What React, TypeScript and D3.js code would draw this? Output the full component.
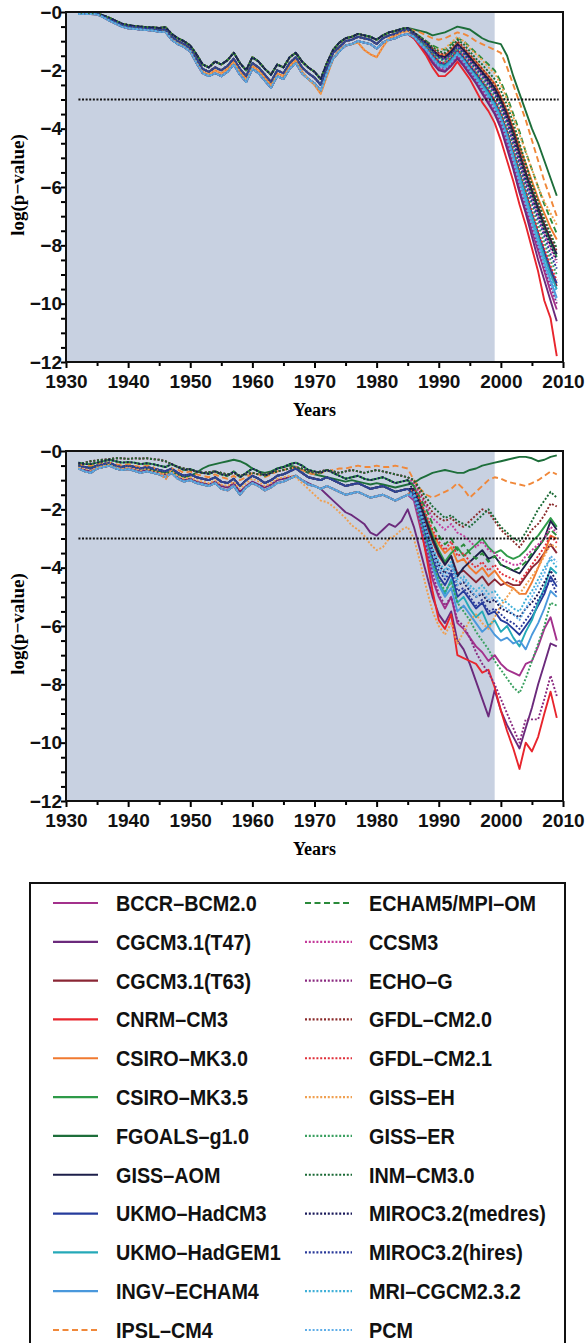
import React, { useEffect, useRef } from 'react';
import * as d3 from 'd3';

// years 1932..2009, one value per year
const years = d3.range(1932, 2010);
const xTicks = d3.range(1930, 2011, 5);
const xLabels = [1930, 1940, 1950, 1960, 1970, 1980, 1990, 2000, 2010];
const yTicks = d3.range(-12, 0.01, 0.5);
const shadeYears = [1930, 1999];
const thresholdYears = [1932, 2009.3];
const threshold = -3;

const models = [
  'BCCR–BCM2.0', 'CGCM3.1(T47)', 'CGCM3.1(T63)', 'CNRM–CM3', 'CSIRO–MK3.0', 'CSIRO–MK3.5',
  'FGOALS–g1.0', 'GISS–AOM', 'UKMO–HadCM3', 'UKMO–HadGEM1', 'INGV–ECHAM4', 'IPSL–CM4',
  'ECHAM5/MPI–OM', 'CCSM3', 'ECHO–G', 'GFDL–CM2.0', 'GFDL–CM2.1', 'GISS–EH',
  'GISS–ER', 'INM–CM3.0', 'MIROC3.2(medres)', 'MIROC3.2(hires)', 'MRI–CGCM2.3.2', 'PCM',
];
const colors = [
  '#a3318c', '#6b2a7c', '#8a2634', '#e8252d', '#f07a30', '#2e9a48',
  '#1d6e3a', '#1d1f4a', '#263c9c', '#25a9b8', '#4a98dc', '#f0883a',
  '#2a8a3a', '#c43a9a', '#8a2a80', '#8a2a2a', '#e0303a', '#f0a050',
  '#3aa060', '#1a6a35', '#1a1a5a', '#2a3a9a', '#40b0d8', '#60aee8',
];
const styles = [
  'solid', 'solid', 'solid', 'solid', 'solid', 'solid',
  'solid', 'solid', 'solid', 'solid', 'solid', 'dashed',
  'dashed', 'dotted', 'dotted', 'dotted', 'dotted', 'dotted',
  'dotted', 'dotted', 'dotted', 'dotted', 'dotted', 'dotted',
];

// ---- top panel: shared histories 1932-1985 ----
const p1Hi = [-0.03,-0.03,-0.04,-0.05,-0.12,-0.2,-0.3,-0.4,-0.45,-0.48,
  -0.5,-0.52,-0.53,-0.55,-0.52,-0.75,-0.9,-1.0,-1.15,-1.45,
  -1.8,-1.9,-1.7,-1.8,-1.65,-1.4,-1.75,-2.0,-1.55,-1.7,
  -1.95,-2.15,-1.8,-1.9,-1.55,-1.4,-1.7,-1.9,-2.05,-2.3,
  -1.75,-1.3,-1.05,-0.9,-0.85,-0.75,-0.8,-0.85,-0.95,-0.8,
  -0.7,-0.65,-0.58,-0.55];
const p1Mid = [-0.05,-0.05,-0.05,-0.06,-0.15,-0.25,-0.35,-0.45,-0.5,-0.52,
  -0.55,-0.57,-0.58,-0.62,-0.6,-0.85,-1.0,-1.1,-1.25,-1.6,
  -1.95,-2.05,-1.9,-2.0,-1.85,-1.6,-1.95,-2.2,-1.75,-1.9,
  -2.15,-2.4,-2.0,-2.1,-1.75,-1.55,-1.9,-2.1,-2.25,-2.5,
  -1.9,-1.4,-1.2,-1.0,-0.95,-0.85,-0.9,-0.95,-1.1,-0.9,
  -0.8,-0.75,-0.65,-0.6];
const p1Lo = [-0.07,-0.07,-0.07,-0.08,-0.18,-0.3,-0.4,-0.5,-0.56,-0.58,
  -0.6,-0.62,-0.64,-0.68,-0.68,-0.95,-1.1,-1.2,-1.35,-1.75,
  -2.1,-2.2,-2.1,-2.2,-2.05,-1.8,-2.15,-2.4,-1.95,-2.1,
  -2.35,-2.6,-2.2,-2.3,-1.95,-1.75,-2.1,-2.3,-2.45,-2.7,
  -2.1,-1.6,-1.35,-1.15,-1.1,-1.0,-1.05,-1.1,-1.25,-1.05,
  -0.95,-0.9,-0.8,-0.75];
const p1Low2 = [-0.06,-0.06,-0.06,-0.07,-0.16,-0.27,-0.37,-0.47,-0.52,-0.55,
  -0.58,-0.6,-0.62,-0.66,-0.64,-0.9,-1.05,-1.15,-1.3,-1.7,
  -2.05,-2.15,-2.0,-2.1,-1.95,-1.7,-2.05,-2.3,-1.85,-2.0,
  -2.25,-2.5,-2.1,-2.2,-1.85,-1.65,-2.05,-2.3,-2.5,-2.8,
  -2.2,-1.6,-1.3,-1.15,-1.1,-1.05,-1.3,-1.45,-1.55,-1.2,
  -0.9,-0.8,-0.7,-0.65];

const panel1Early = [
  p1Lo, p1Lo, p1Mid, p1Lo, p1Low2, p1Mid,
  p1Hi, p1Hi, p1Mid, p1Lo, p1Lo, p1Hi,
  p1Hi, p1Mid, p1Mid, p1Mid, p1Lo, p1Low2,
  p1Mid, p1Hi, p1Hi, p1Mid, p1Lo, p1Lo,
];

// ---- top panel: 1986-2009 per model ----
const panel1Tail = [
  [-0.9,-1.15,-1.4,-1.7,-1.95,-2.0,-1.8,-1.55,-1.8,-2.1,-2.4,-2.75,-3.1,-3.45,-3.9,-4.55,-5.3,-6.1,-6.8,-7.5,-8.2,-8.9,-9.6,-10.2],
  [-0.9,-1.15,-1.45,-1.75,-2.0,-2.05,-1.85,-1.6,-1.85,-2.15,-2.45,-2.8,-3.15,-3.5,-4.0,-4.7,-5.4,-6.2,-6.9,-7.7,-8.5,-9.2,-9.9,-10.6],
  [-0.8,-1.05,-1.25,-1.5,-1.75,-1.8,-1.6,-1.35,-1.6,-1.9,-2.15,-2.45,-2.75,-3.1,-3.55,-4.15,-4.85,-5.55,-6.25,-6.95,-7.6,-8.3,-8.9,-9.4],
  [-0.9,-1.2,-1.5,-1.9,-2.2,-2.2,-2.0,-1.7,-2.0,-2.3,-2.7,-3.1,-3.4,-3.8,-4.4,-5.1,-5.8,-6.6,-7.3,-8.1,-8.9,-9.9,-10.5,-11.8],
  [-0.75,-0.95,-1.1,-1.3,-1.45,-1.5,-1.3,-1.05,-1.25,-1.5,-1.7,-1.95,-2.2,-2.45,-2.9,-3.4,-4.0,-4.6,-5.2,-5.8,-6.4,-6.9,-7.4,-7.8],
  [-0.75,-0.95,-1.1,-1.35,-1.55,-1.6,-1.4,-1.15,-1.35,-1.6,-1.85,-2.1,-2.4,-2.7,-3.1,-3.6,-4.2,-4.9,-5.6,-6.2,-6.8,-7.4,-7.9,-8.4],
  [-0.6,-0.65,-0.7,-0.8,-0.75,-0.7,-0.6,-0.5,-0.55,-0.6,-0.75,-0.9,-1.0,-1.05,-1.1,-1.5,-2.2,-2.8,-3.4,-4.0,-4.5,-5.1,-5.7,-6.3],
  [-0.7,-0.9,-1.05,-1.3,-1.5,-1.55,-1.35,-1.1,-1.3,-1.55,-1.8,-2.05,-2.3,-2.6,-3.0,-3.5,-4.1,-4.8,-5.5,-6.1,-6.7,-7.3,-7.8,-8.3],
  [-0.8,-1.0,-1.2,-1.45,-1.7,-1.8,-1.6,-1.3,-1.55,-1.85,-2.1,-2.4,-2.7,-3.05,-3.5,-4.1,-4.8,-5.5,-6.2,-6.9,-7.6,-8.2,-8.8,-9.3],
  [-0.85,-1.05,-1.25,-1.55,-1.8,-1.85,-1.65,-1.4,-1.65,-1.95,-2.2,-2.5,-2.8,-3.15,-3.6,-4.2,-4.9,-5.6,-6.3,-7.0,-7.7,-8.4,-9.0,-9.5],
  [-0.85,-1.1,-1.3,-1.6,-1.85,-1.9,-1.7,-1.45,-1.7,-2.0,-2.3,-2.6,-2.9,-3.25,-3.7,-4.3,-5.0,-5.8,-6.5,-7.2,-7.9,-8.6,-9.2,-9.8],
  [-0.65,-0.7,-0.8,-0.9,-0.95,-0.9,-0.8,-0.7,-0.75,-0.85,-1.0,-1.1,-1.2,-1.3,-1.4,-1.9,-2.5,-3.1,-3.7,-4.4,-5.1,-5.8,-6.4,-7.0],
  [-0.7,-0.85,-1.0,-1.15,-1.25,-1.3,-1.1,-0.9,-1.0,-1.2,-1.4,-1.6,-1.8,-2.0,-2.4,-2.9,-3.5,-4.1,-4.8,-5.4,-6.0,-6.6,-7.1,-7.6],
  [-0.75,-0.95,-1.1,-1.35,-1.55,-1.6,-1.45,-1.15,-1.4,-1.65,-1.9,-2.15,-2.45,-2.75,-3.2,-3.7,-4.4,-5.1,-5.8,-6.4,-7.0,-7.6,-8.1,-8.6],
  [-0.85,-1.1,-1.35,-1.65,-1.9,-1.95,-1.8,-1.5,-1.75,-2.05,-2.35,-2.65,-3.0,-3.35,-3.8,-4.45,-5.2,-6.0,-6.7,-7.4,-8.1,-8.8,-9.4,-10.0],
  [-0.75,-0.9,-1.05,-1.25,-1.4,-1.45,-1.25,-1.0,-1.2,-1.45,-1.7,-1.95,-2.2,-2.5,-2.9,-3.4,-4.0,-4.7,-5.4,-6.0,-6.6,-7.2,-7.7,-8.2],
  [-0.8,-1.0,-1.2,-1.45,-1.7,-1.75,-1.55,-1.3,-1.5,-1.8,-2.05,-2.35,-2.65,-3.0,-3.45,-4.0,-4.7,-5.4,-6.1,-6.8,-7.5,-8.1,-8.7,-9.2],
  [-0.7,-0.9,-1.0,-1.2,-1.3,-1.25,-1.05,-0.85,-1.0,-1.25,-1.45,-1.65,-1.9,-2.1,-2.5,-3.0,-3.6,-4.2,-4.8,-5.4,-6.0,-6.5,-6.9,-7.3],
  [-0.8,-1.0,-1.15,-1.4,-1.6,-1.7,-1.5,-1.25,-1.45,-1.75,-2.0,-2.3,-2.6,-2.9,-3.35,-3.9,-4.6,-5.3,-6.0,-6.6,-7.3,-7.9,-8.5,-9.0],
  [-0.7,-0.85,-1.0,-1.2,-1.35,-1.4,-1.2,-0.95,-1.1,-1.35,-1.6,-1.8,-2.05,-2.3,-2.7,-3.2,-3.8,-4.5,-5.2,-5.9,-6.5,-7.1,-7.6,-8.1],
  [-0.7,-0.9,-1.05,-1.3,-1.5,-1.55,-1.4,-1.1,-1.3,-1.6,-1.85,-2.1,-2.4,-2.7,-3.1,-3.7,-4.3,-5.0,-5.7,-6.3,-6.9,-7.5,-8.0,-8.5],
  [-0.75,-0.95,-1.1,-1.35,-1.55,-1.65,-1.45,-1.2,-1.4,-1.7,-1.95,-2.2,-2.5,-2.8,-3.25,-3.8,-4.5,-5.2,-5.9,-6.5,-7.1,-7.7,-8.3,-8.8],
  [-0.85,-1.05,-1.3,-1.55,-1.8,-1.9,-1.7,-1.4,-1.65,-1.95,-2.25,-2.55,-2.85,-3.2,-3.65,-4.25,-4.95,-5.7,-6.4,-7.1,-7.8,-8.5,-9.1,-9.6],
  [-0.85,-1.1,-1.3,-1.6,-1.85,-1.95,-1.75,-1.45,-1.7,-2.0,-2.3,-2.6,-2.95,-3.3,-3.75,-4.4,-5.1,-5.9,-6.6,-7.3,-8.0,-8.7,-9.3,-9.9],
];

// ---- bottom panel: histories 1932-1985 ----
const p2Top = [-0.45,-0.4,-0.35,-0.32,-0.3,-0.28,-0.25,-0.25,-0.27,-0.25,
  -0.26,-0.25,-0.28,-0.3,-0.35,-0.45,-0.55,-0.6,-0.65,-0.7,
  -0.75,-0.72,-0.7,-0.75,-0.8,-0.75,-0.85,-0.8,-0.75,-0.8,
  -0.8,-0.75,-0.7,-0.65,-0.6,-0.55,-0.6,-0.7,-0.75,-0.7,
  -0.65,-0.7,-0.75,-0.7,-0.65,-0.7,-0.75,-0.7,-0.65,-0.7,
  -0.75,-0.8,-0.85,-0.9];
const p2Hi = [-0.4,-0.45,-0.45,-0.4,-0.35,-0.3,-0.35,-0.4,-0.38,-0.4,
  -0.45,-0.42,-0.45,-0.5,-0.55,-0.45,-0.55,-0.65,-0.62,-0.7,
  -0.75,-0.78,-0.7,-0.8,-0.85,-0.7,-0.9,-0.75,-0.6,-0.7,
  -0.85,-0.75,-0.6,-0.55,-0.45,-0.4,-0.5,-0.65,-0.7,-0.75,
  -0.65,-0.75,-0.85,-0.95,-0.9,-0.85,-0.95,-1.0,-0.95,-0.9,
  -1.0,-1.1,-1.05,-1.0];
const p2Mid = [-0.5,-0.55,-0.6,-0.5,-0.45,-0.4,-0.5,-0.55,-0.5,-0.55,
  -0.6,-0.55,-0.6,-0.65,-0.7,-0.6,-0.75,-0.85,-0.8,-0.9,
  -0.95,-1.0,-0.9,-1.05,-1.1,-0.95,-1.2,-1.0,-0.85,-0.95,
  -1.1,-1.0,-0.85,-0.8,-0.7,-0.6,-0.75,-0.9,-0.95,-1.0,
  -0.9,-1.0,-1.1,-1.2,-1.15,-1.1,-1.2,-1.3,-1.25,-1.2,
  -1.3,-1.4,-1.35,-1.3];
const p2Lo = [-0.6,-0.7,-0.75,-0.6,-0.55,-0.5,-0.6,-0.65,-0.62,-0.68,
  -0.75,-0.7,-0.75,-0.8,-0.9,-0.75,-0.95,-1.05,-1.0,-1.1,
  -1.15,-1.2,-1.1,-1.3,-1.35,-1.2,-1.5,-1.25,-1.1,-1.2,
  -1.35,-1.25,-1.1,-1.05,-0.95,-0.85,-1.0,-1.15,-1.2,-1.3,
  -1.2,-1.3,-1.4,-1.5,-1.45,-1.4,-1.5,-1.6,-1.55,-1.5,
  -1.6,-1.7,-1.6,-1.5];
const fgoalsEarly2 = [-0.5,-0.55,-0.55,-0.5,-0.45,-0.45,-0.5,-0.55,-0.5,-0.55,
  -0.6,-0.6,-0.65,-0.7,-0.75,-0.7,-0.8,-0.9,-0.85,-0.75,
  -0.6,-0.5,-0.45,-0.4,-0.35,-0.3,-0.35,-0.45,-0.6,-0.7,
  -0.75,-0.7,-0.6,-0.55,-0.5,-0.55,-0.65,-0.75,-0.8,-0.85,
  -0.9,-0.95,-1.0,-1.05,-1.0,-1.05,-1.1,-1.15,-1.1,-1.15,
  -1.2,-1.25,-1.2,-1.15];
const ipslEarly2 = [-0.45,-0.5,-0.5,-0.45,-0.4,-0.4,-0.45,-0.5,-0.45,-0.5,
  -0.55,-0.5,-0.55,-0.7,-1.0,-0.6,-0.65,-0.75,-0.7,-0.8,
  -0.85,-0.9,-0.8,-0.9,-0.95,-0.85,-1.0,-0.9,-0.75,-0.8,
  -0.9,-0.8,-0.7,-0.65,-0.6,-0.55,-0.65,-0.75,-0.8,-0.75,
  -0.7,-0.65,-0.6,-0.6,-0.55,-0.5,-0.55,-0.55,-0.5,-0.55,
  -0.55,-0.5,-0.55,-0.6];
const gissEhEarly2 = [-0.55,-0.6,-0.65,-0.55,-0.5,-0.45,-0.55,-0.6,-0.55,-0.6,
  -0.65,-0.6,-0.7,-0.75,-0.8,-0.7,-0.85,-0.95,-0.9,-1.0,
  -1.05,-1.1,-1.0,-1.15,-1.2,-1.05,-1.3,-1.1,-0.95,-1.05,
  -1.2,-1.1,-0.95,-0.9,-0.85,-0.9,-1.1,-1.3,-1.5,-1.7,
  -1.75,-1.9,-2.1,-2.3,-2.55,-2.7,-2.9,-3.2,-3.4,-3.3,
  -3.0,-2.9,-2.7,-2.6];
const t47Early2 = [-0.6,-0.65,-0.7,-0.6,-0.55,-0.5,-0.6,-0.65,-0.6,-0.65,
  -0.7,-0.65,-0.7,-0.75,-0.8,-0.75,-0.9,-1.0,-0.95,-1.05,
  -1.1,-1.15,-1.05,-1.2,-1.25,-1.1,-1.4,-1.2,-1.05,-1.15,
  -1.25,-1.15,-1.0,-0.95,-0.9,-0.85,-1.0,-1.1,-1.2,-1.3,
  -1.5,-1.7,-1.9,-2.1,-2.2,-2.35,-2.5,-2.8,-2.9,-2.7,
  -2.5,-2.6,-2.4,-2.0];

const panel2Early = [
  p2Lo, t47Early2, p2Mid, p2Lo, p2Lo, p2Hi,
  fgoalsEarly2, p2Mid, p2Mid, p2Lo, p2Lo, ipslEarly2,
  p2Hi, p2Top, p2Mid, p2Top, p2Lo, gissEhEarly2,
  p2Mid, p2Top, p2Hi, p2Mid, p2Lo, p2Lo,
];

// ---- bottom panel: 1986-2009 per model ----
const panel2Tail = [
  [-1.7,-2.6,-3.5,-4.4,-5.0,-5.4,-5.0,-5.9,-6.1,-6.4,-6.7,-6.9,-7.2,-7.0,-7.3,-7.5,-7.6,-7.7,-7.3,-7.2,-6.7,-6.1,-5.7,-6.5],
  [-2.6,-3.4,-4.2,-5.0,-5.6,-5.9,-5.5,-6.5,-6.8,-7.3,-7.9,-8.5,-9.1,-8.2,-8.9,-9.4,-9.8,-10.2,-9.5,-8.8,-8.0,-7.3,-6.6,-6.7],
  [-1.4,-1.9,-2.5,-3.1,-3.6,-3.9,-3.6,-4.2,-4.1,-4.3,-4.5,-4.3,-4.6,-4.4,-4.6,-4.5,-4.6,-4.6,-4.3,-4.0,-3.8,-3.5,-3.2,-3.5],
  [-1.5,-2.5,-3.6,-4.8,-5.8,-6.1,-5.6,-7.0,-7.1,-7.2,-7.3,-7.6,-7.5,-8.1,-8.9,-9.6,-10.2,-10.9,-10.0,-10.3,-9.8,-9.0,-8.25,-9.15],
  [-1.3,-1.8,-2.3,-2.8,-3.2,-3.5,-3.3,-3.8,-3.7,-4.0,-4.2,-4.0,-4.3,-4.1,-4.4,-4.6,-4.7,-4.9,-4.9,-4.5,-4.0,-3.5,-2.9,-3.0],
  [-1.2,-1.7,-2.3,-2.9,-3.4,-3.8,-3.5,-3.3,-3.6,-3.4,-3.2,-3.0,-3.3,-3.5,-3.4,-3.6,-3.7,-3.6,-3.4,-3.1,-2.9,-2.6,-2.3,-2.6],
  [-1.1,-0.95,-0.85,-0.75,-0.7,-0.65,-0.7,-0.75,-0.75,-0.65,-0.6,-0.5,-0.45,-0.4,-0.35,-0.3,-0.25,-0.2,-0.2,-0.25,-0.35,-0.3,-0.2,-0.15],
  [-1.3,-1.8,-2.4,-3.0,-3.5,-3.9,-3.6,-4.3,-4.0,-3.8,-3.6,-3.4,-3.7,-3.6,-3.9,-4.0,-4.1,-4.2,-3.9,-3.6,-3.3,-3.0,-2.4,-2.7],
  [-1.5,-2.2,-3.0,-3.7,-4.3,-4.6,-4.2,-5.0,-4.8,-5.1,-5.4,-5.2,-5.6,-5.5,-5.8,-5.9,-6.1,-6.3,-6.0,-5.7,-5.3,-4.9,-4.3,-4.65],
  [-1.5,-2.3,-3.1,-3.9,-4.5,-4.9,-4.4,-5.2,-5.0,-5.4,-5.7,-5.5,-6.0,-5.8,-6.2,-6.0,-6.4,-6.7,-6.2,-5.8,-5.2,-4.7,-4.0,-4.2],
  [-1.6,-2.4,-3.2,-4.0,-4.6,-5.0,-4.7,-5.5,-5.3,-5.6,-5.9,-6.2,-6.0,-6.3,-6.5,-6.4,-6.6,-6.5,-6.8,-6.3,-5.9,-5.4,-4.8,-5.0],
  [-1.0,-1.3,-1.5,-1.6,-1.5,-1.4,-1.3,-1.1,-1.3,-1.6,-1.4,-1.2,-1.0,-0.9,-0.95,-1.05,-1.1,-1.15,-1.2,-1.1,-1.0,-0.85,-0.7,-0.8],
  [-1.2,-1.6,-2.0,-2.5,-2.9,-3.2,-3.0,-3.4,-3.2,-3.5,-3.7,-3.5,-3.8,-3.6,-3.9,-4.0,-4.1,-4.0,-3.8,-3.5,-3.3,-3.0,-2.7,-2.9],
  [-1.1,-1.5,-1.9,-2.3,-2.5,-2.7,-2.5,-2.8,-2.9,-3.1,-3.3,-3.1,-3.4,-3.5,-3.7,-3.8,-3.9,-3.9,-3.6,-3.4,-3.2,-3.0,-2.6,-2.8],
  [-1.6,-2.4,-3.3,-4.2,-4.9,-5.3,-5.0,-5.8,-6.0,-6.4,-6.9,-7.3,-7.6,-8.0,-8.5,-9.0,-9.5,-10.0,-9.2,-9.2,-9.2,-8.5,-7.7,-8.4],
  [-1.0,-1.4,-1.8,-2.1,-2.3,-2.4,-2.3,-2.5,-2.6,-2.4,-2.2,-2.0,-2.1,-2.4,-2.7,-2.9,-3.1,-3.3,-3.0,-2.7,-2.5,-2.2,-1.8,-1.9],
  [-1.3,-1.7,-2.2,-2.7,-3.1,-3.4,-3.1,-3.6,-3.5,-3.8,-4.0,-3.8,-4.1,-3.9,-4.2,-4.3,-4.4,-4.5,-4.2,-3.9,-3.6,-3.3,-2.9,-3.15],
  [-3.0,-3.8,-4.7,-5.5,-6.0,-6.3,-5.9,-6.6,-6.2,-5.8,-5.6,-5.9,-6.1,-5.7,-5.3,-5.0,-4.7,-4.9,-4.6,-4.3,-4.0,-3.6,-3.2,-3.3],
  [-1.5,-2.2,-3.0,-3.8,-4.4,-4.8,-4.5,-5.2,-5.5,-5.8,-6.2,-6.5,-6.8,-7.2,-7.5,-7.8,-8.1,-8.3,-7.8,-7.2,-6.6,-6.0,-5.2,-5.3],
  [-1.0,-1.3,-1.6,-1.9,-2.1,-2.3,-2.2,-2.4,-2.5,-2.6,-2.4,-2.2,-2.0,-2.3,-2.6,-2.8,-3.0,-3.1,-2.8,-2.4,-2.0,-1.7,-1.4,-1.6],
  [-1.4,-2.0,-2.7,-3.4,-3.9,-4.2,-3.9,-4.6,-4.5,-4.8,-5.0,-4.9,-5.2,-5.1,-5.4,-5.5,-5.6,-5.7,-5.4,-5.2,-4.9,-4.5,-4.1,-4.5],
  [-1.5,-2.1,-2.9,-3.6,-4.1,-4.4,-4.1,-4.8,-4.7,-5.0,-5.3,-5.1,-5.5,-5.4,-5.6,-5.8,-5.9,-6.1,-5.8,-5.5,-5.1,-4.8,-4.4,-4.9],
  [-1.4,-2.0,-2.7,-3.3,-3.8,-4.1,-3.8,-4.4,-4.3,-4.6,-4.8,-4.6,-4.9,-4.8,-5.1,-5.2,-5.4,-5.5,-5.1,-4.8,-4.4,-4.0,-3.7,-4.0],
  [-1.5,-2.1,-2.8,-3.5,-4.0,-4.3,-3.9,-4.6,-4.4,-4.7,-5.0,-4.8,-5.1,-5.0,-5.3,-5.4,-5.6,-5.8,-5.4,-5.0,-4.6,-4.2,-3.6,-3.8],
];

const SANS = "'Liberation Sans', Arial, Helvetica, sans-serif";
const SERIF = "'Liberation Serif', 'Times New Roman', serif";
const dashFor = (s) => (s === 'dashed' ? '6 3.5' : s === 'dotted' ? '2 1.8' : null);

function Chart() {
  const ref = useRef(null);

  useEffect(() => {
    const svg = d3.select(ref.current);
    svg.selectAll('*').remove();

    const width = 587, height = 1343;
    const plotH = 350;
    svg.attr('width', width).attr('height', height);

    const x = d3.scaleLinear().domain([1930, 2010]).range([66, 563]);

    const drawPanel = (top, early, tails) => {
      const y = d3.scaleLinear().domain([-12, 0]).range([top + plotH, top]);
      const g = svg.append('g');

      // grey-blue shading over the fit period
      g.append('rect')
        .attr('x', x(shadeYears[0]))
        .attr('y', y(0))
        .attr('width', x(shadeYears[1]) - x(shadeYears[0]))
        .attr('height', y(-12) - y(0))
        .attr('fill', '#c8d1e1');

      const line = d3.line()
        .x((_, i) => x(years[i]))
        .y((d) => y(d));

      models.forEach((m, i) => {
        const values = early[i].concat(tails[i]);
        g.append('path')
          .datum(values)
          .attr('d', line)
          .attr('fill', 'none')
          .attr('stroke', colors[i])
          .attr('stroke-width', 1.9)
          .attr('stroke-linejoin', 'round')
          .attr('stroke-dasharray', dashFor(styles[i]));
      });

      // p = 10^-3 reference line
      g.append('line')
        .attr('x1', x(thresholdYears[0]))
        .attr('x2', x(thresholdYears[1]))
        .attr('y1', y(threshold))
        .attr('y2', y(threshold))
        .attr('stroke', '#111')
        .attr('stroke-width', 2.2)
        .attr('stroke-dasharray', '2 1.6');

      // axes
      const xAxis = g.append('g')
        .attr('transform', `translate(0,${y(-12)})`)
        .call(d3.axisBottom(x).tickValues(xTicks).tickSize(6).tickPadding(7)
          .tickFormat((d) => (xLabels.includes(d) ? String(d) : '')));
      xAxis.selectAll('.tick line')
        .attr('stroke-width', 2)
        .attr('y2', (d) => (xLabels.includes(d) ? 6 : 4));

      const yAxis = g.append('g')
        .attr('transform', `translate(${x(1930)},0)`)
        .call(d3.axisLeft(y).tickValues(yTicks).tickSize(5).tickPadding(-1)
          .tickFormat((d) => (d % 2 === 0 ? '\u2212' + Math.abs(d) : '')));
      yAxis.selectAll('.tick line').attr('stroke-width', 2);

      [xAxis, yAxis].forEach((a) => {
        a.select('.domain').remove();
        a.selectAll('text')
          .attr('font-family', SANS)
          .attr('font-weight', 'bold')
          .attr('font-size', 19)
          .attr('fill', '#111');
      });

      // frame
      g.append('rect')
        .attr('x', x(1930))
        .attr('y', y(0))
        .attr('width', x(2010) - x(1930))
        .attr('height', y(-12) - y(0))
        .attr('fill', 'none')
        .attr('stroke', '#111')
        .attr('stroke-width', 2);

      g.append('text')
        .attr('x', (x(1930) + x(2010)) / 2)
        .attr('y', y(-12) + 54)
        .attr('text-anchor', 'middle')
        .attr('font-family', SERIF)
        .attr('font-weight', 'bold')
        .attr('font-size', 18)
        .text('Years');

      g.append('text')
        .attr('transform', `translate(24,${y(-6) - 2}) rotate(-90)`)
        .attr('text-anchor', 'middle')
        .attr('font-family', SERIF)
        .attr('font-weight', 'bold')
        .attr('font-size', 19)
        .text('log(p\u2212value)');
    };

    drawPanel(12, panel1Early, panel1Tail);
    drawPanel(451, panel2Early, panel2Tail);

    // legend
    const rows = 12;
    const rowY = d3.scaleLinear().domain([0, rows - 1]).range([903, 1330]);
    const colX = [{ l1: 53, l2: 98, t: 116 }, { l1: 305, l2: 352, t: 369 }];
    const lg = svg.append('g');
    lg.append('rect')
      .attr('x', 30).attr('y', 883)
      .attr('width', 535).attr('height', 480)
      .attr('fill', 'none').attr('stroke', '#111').attr('stroke-width', 2);

    models.forEach((m, i) => {
      const c = colX[Math.floor(i / rows)];
      const yy = rowY(i % rows);
      lg.append('line')
        .attr('x1', c.l1).attr('x2', c.l2)
        .attr('y1', yy).attr('y2', yy)
        .attr('stroke', colors[i])
        .attr('stroke-width', 2.2)
        .attr('stroke-dasharray', dashFor(styles[i]));
      // the original lettering is a tall, slightly narrow bold sans
      lg.append('text')
        .attr('transform', `translate(${c.t},${yy}) scale(0.9,1)`)
        .attr('dy', '0.36em')
        .attr('font-family', SANS)
        .attr('font-weight', 'bold')
        .attr('font-size', 22)
        .attr('fill', '#111')
        .text(m);
    });
  }, []);

  return <svg ref={ref} style={{ position: 'absolute', left: 0, top: 0, background: '#fff' }}></svg>;
}

export default function App() {
  return <Chart />;
}
